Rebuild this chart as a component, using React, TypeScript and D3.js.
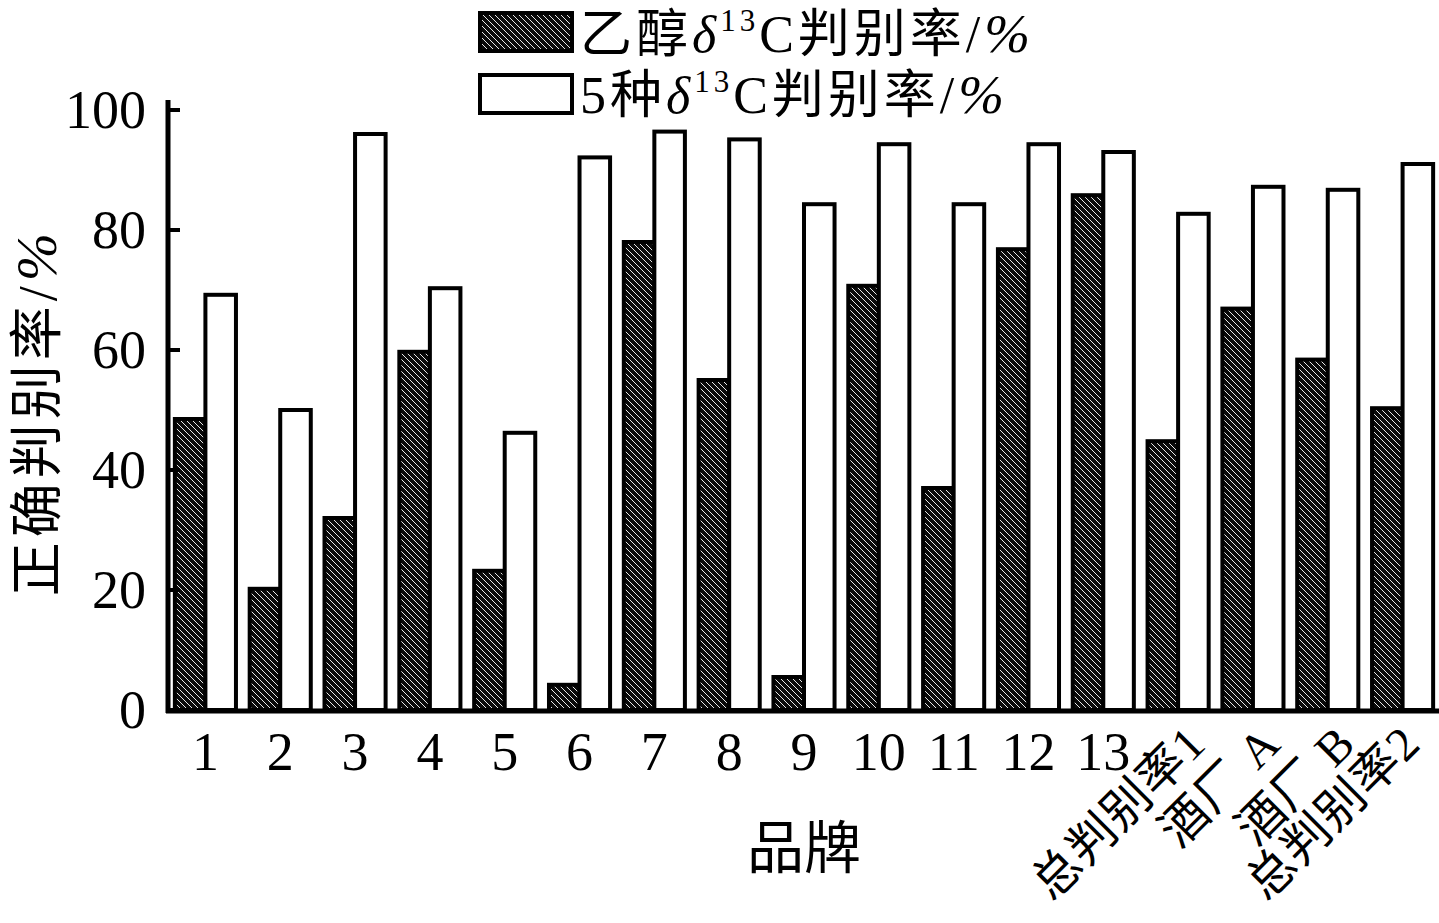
import React from "react";
import * as d3 from "d3";

const categories = ["1","2","3","4","5","6","7","8","9","10","11","12","13","总判别率1","酒厂 A","酒厂 B","总判别率2"];
const ethanolRate = [48.5, 20.2, 32.0, 59.7, 23.2, 4.2, 78.0, 55.0, 5.5, 70.7, 37.0, 76.8, 85.8, 44.8, 66.9, 58.4, 50.3];
const fiveRate = [69.2, 50.0, 96.0, 70.3, 46.2, 92.1, 96.4, 95.1, 84.3, 94.3, 84.3, 94.3, 93.0, 82.7, 87.2, 86.7, 91.0];
const yTicks = [0, 20, 40, 60, 80, 100];
const seriesKeys = ["ethanol", "five"];

const W = 1439, H = 923;
const left = 168, right = 1440, bottom = 710, top = 110;
const FONT = "'Liberation Serif', 'Noto Sans CJK SC', serif";

export default function App() {
  const x = d3.scaleBand<string>().domain(categories).range([left, right]).paddingInner(0.13).paddingOuter(0.065);
  const xs = d3.scaleBand<string>().domain(seriesKeys).range([0, x.bandwidth()]);
  const y = d3.scaleLinear().domain([0, 100]).range([bottom, top]);

  return (
    <svg width={W} height={H} style={{ position: "absolute", left: 0, top: 0, background: "#fff" }}>
      <defs>
        <pattern id="hatch" patternUnits="userSpaceOnUse" width={6} height={6}>
          <rect width={6} height={6} fill="#0a0a0a" />
          <line x1={0} y1={0} x2={6} y2={6} stroke="#fff" strokeWidth={0.9} />
        </pattern>
      </defs>

      {/* bars */}
      {categories.map((c, i) => (
        <g key={c}>
          <rect x={(x(c) as number) + (xs("ethanol") as number) + 2} y={y(ethanolRate[i])}
            width={xs.bandwidth() - 2} height={y(0) - y(ethanolRate[i])}
            fill="url(#hatch)" stroke="#000" strokeWidth={4} />
          <rect x={(x(c) as number) + (xs("five") as number)} y={y(fiveRate[i])}
            width={xs.bandwidth() - 2} height={y(0) - y(fiveRate[i])}
            fill="#fff" stroke="#000" strokeWidth={4} />
        </g>
      ))}

      {/* axes */}
      <line x1={left} y1={100} x2={left} y2={bottom + 3} stroke="#000" strokeWidth={5} />
      <line x1={left - 2} y1={bottom + 1} x2={W} y2={bottom + 1} stroke="#000" strokeWidth={5} />
      {yTicks.map(t => (
        <g key={t}>
          <line x1={left} x2={left + 12} y1={y(t)} y2={y(t)} stroke="#000" strokeWidth={4} />
          <text x={146} y={y(t) + 18} textAnchor="end" fontSize={54} fontFamily={FONT}>{t}</text>
        </g>
      ))}

      {/* x tick labels */}
      {categories.map((c, i) => {
        const cx = (x(c) as number) + x.bandwidth() / 2;
        if (c.length <= 2) {
          return <text key={c} x={cx} y={770} textAnchor="middle" fontSize={54} fontFamily={FONT}>{c}</text>;
        }
        const off = i === categories.length - 1 ? 20 : 30;
        return (
          <text key={c} transform={`translate(${cx + off},${746}) rotate(-45)`} textAnchor="end"
            fontSize={48} letterSpacing={1} fontFamily={FONT}>{c}</text>
        );
      })}

      {/* axis titles */}
      <text x={(left + right) / 2} y={868} textAnchor="middle" fontSize={57} fontFamily={FONT}>品牌</text>
      <text transform={`translate(56,${(top + bottom) / 2 + 2}) rotate(-90)`} textAnchor="middle" fontSize={54}
        letterSpacing={5} fontFamily={FONT}>
        正确判别率/<tspan fontStyle="italic" fontSize={58}>%</tspan>
      </text>

      {/* legend */}
      <rect x={480} y={13} width={92} height={38} fill="url(#hatch)" stroke="#000" strokeWidth={4} />
      <text x={580} y={52} fontSize={52} letterSpacing={4} fontFamily={FONT}>
        乙醇<tspan fontStyle="italic">δ</tspan><tspan fontSize={31} dy={-21}>13</tspan><tspan dy={21}>C判别率/</tspan><tspan fontStyle="italic" fontSize={55}>%</tspan>
      </text>
      <rect x={480} y={75} width={92} height={38} fill="#fff" stroke="#000" strokeWidth={4} />
      <text x={580} y={113} fontSize={52} letterSpacing={4} fontFamily={FONT}>
        5种<tspan fontStyle="italic">δ</tspan><tspan fontSize={31} dy={-21}>13</tspan><tspan dy={21}>C判别率/</tspan><tspan fontStyle="italic" fontSize={55}>%</tspan>
      </text>
    </svg>
  );
}
